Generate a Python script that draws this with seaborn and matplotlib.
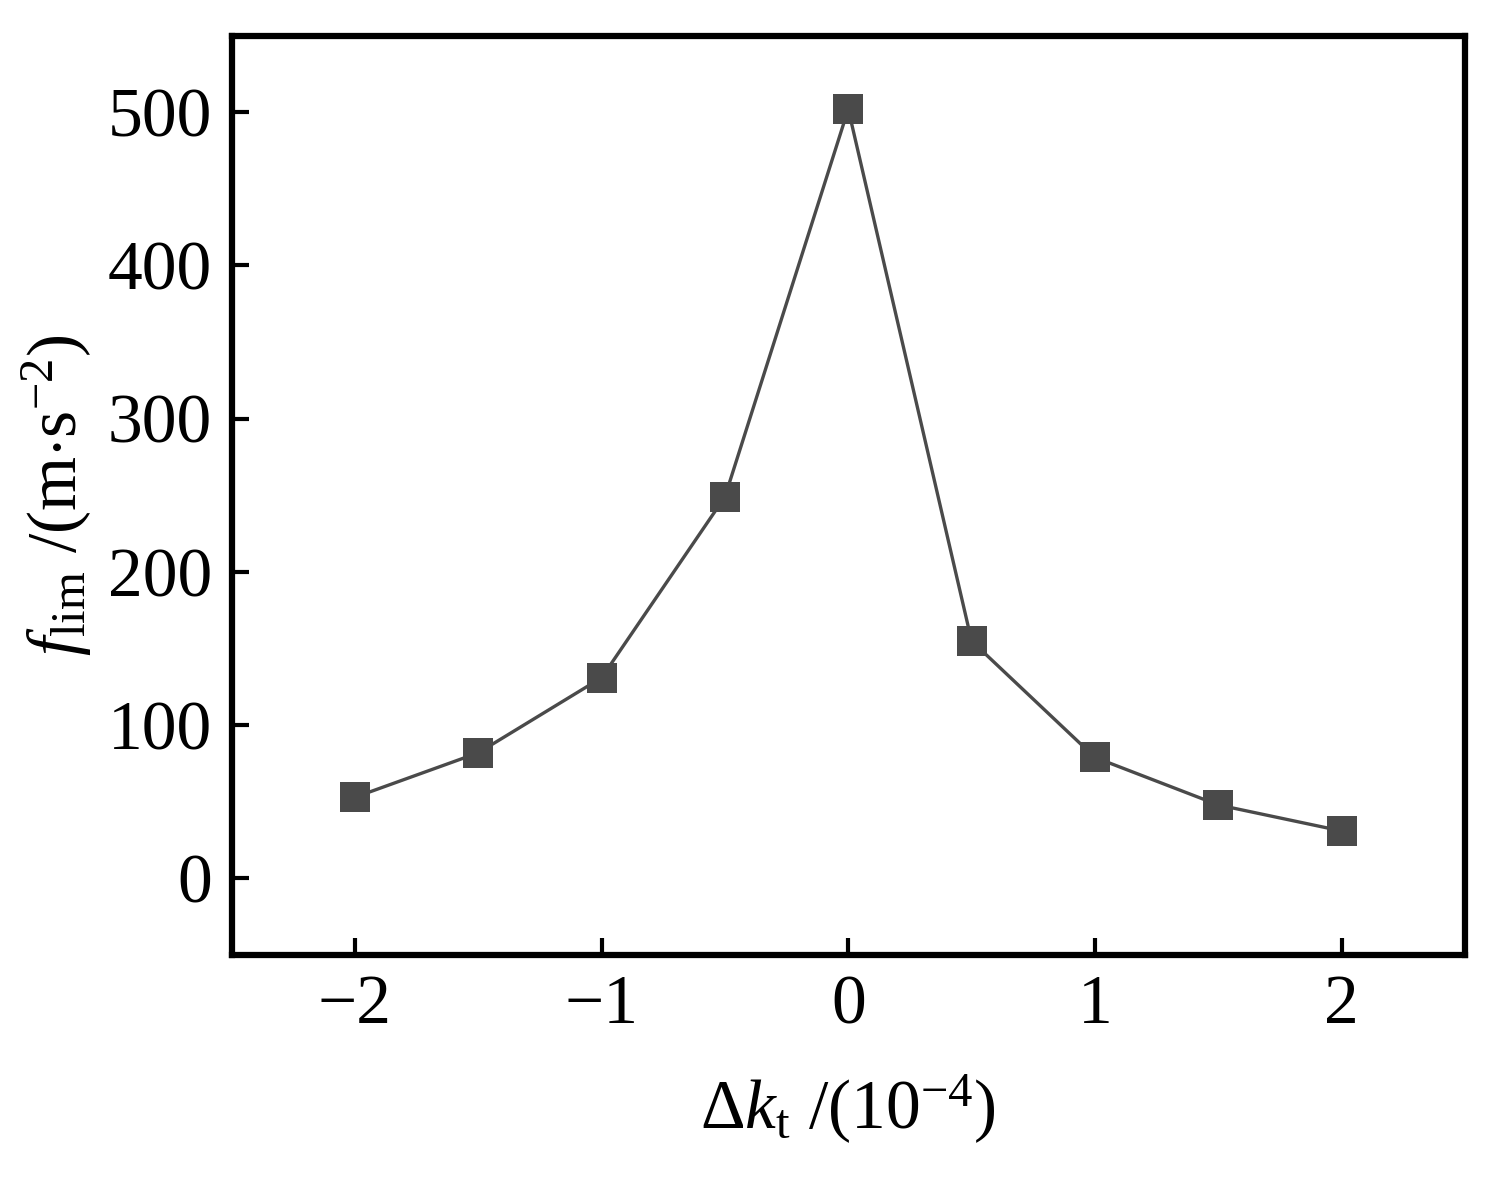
import matplotlib
matplotlib.use("Agg")
import matplotlib.pyplot as plt
import seaborn as sns
import pandas as pd

dk = [-2, -1.5, -1, -0.5, 0, 0.5, 1, 1.5, 2]
flim = [53, 82, 131, 249, 502, 155, 79, 48, 31]
xticks = [-2, -1, 0, 1, 2]
yticks = [0, 100, 200, 300, 400, 500]

sns.set_style("ticks")
plt.rcParams['font.family'] = ['Liberation Serif', 'DejaVu Serif']
plt.rcParams['mathtext.fontset'] = 'custom'
plt.rcParams['mathtext.rm'] = 'Liberation Serif'
plt.rcParams['mathtext.it'] = 'Liberation Serif:italic'
plt.rcParams['axes.unicode_minus'] = True
plt.rcParams['text.color'] = 'black'
plt.rcParams['axes.labelcolor'] = 'black'
plt.rcParams['xtick.color'] = 'black'
plt.rcParams['ytick.color'] = 'black'

fig = plt.figure(figsize=(15.04, 11.85), dpi=100)
ax = fig.add_axes([0.154, 0.194, 0.82, 0.776])
df = pd.DataFrame({'x': dk, 'y': flim})
sns.lineplot(data=df, x='x', y='y', ax=ax, color='#4a4a4a', linewidth=2.4,
             marker='s', markersize=22, markeredgewidth=0, markerfacecolor='#4a4a4a')
ax.set_xlim(-2.5, 2.5)
ax.set_ylim(-50, 550)
ax.set_xticks(xticks)
ax.set_xticklabels(['\u2212' + str(abs(t)) if t < 0 else str(t) for t in xticks])
ax.set_yticks(yticks)
for s in ax.spines.values():
    s.set_linewidth(4.5)
    s.set_color('black')
    s.set_visible(True)
ax.tick_params(direction='in', length=12, width=3, labelsize=50, pad=14, colors='black')
ax.tick_params(top=False, right=False)
ax.set_xlabel(r'$\Delta k_{\rm t}$ /(10$^{-4}$)', fontsize=50, labelpad=25)
ax.set_ylabel(r'$f_{\rm lim}$ /(m$\cdot$s$^{-2}$)', fontsize=50, labelpad=10)
fig.savefig('out.png', dpi=100)
